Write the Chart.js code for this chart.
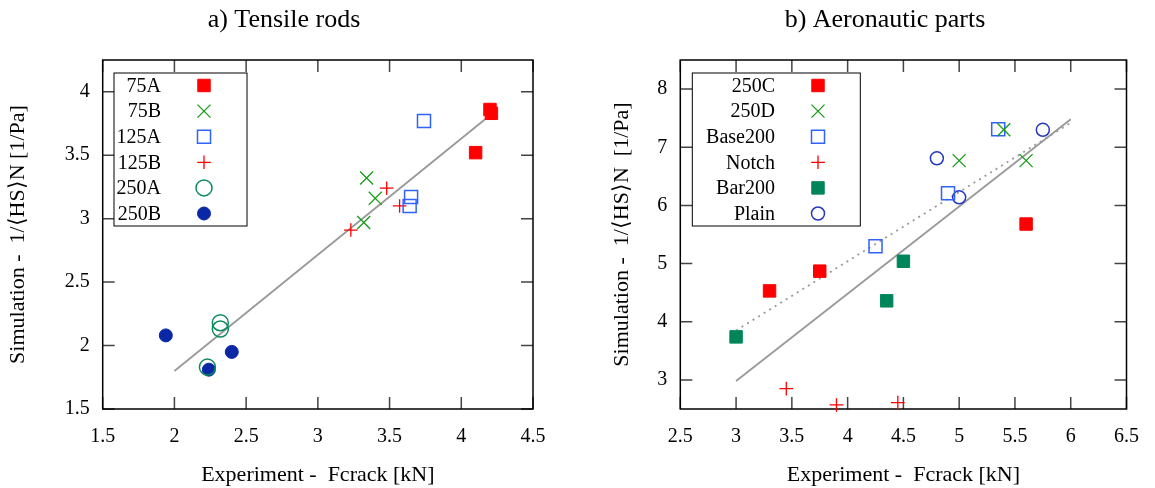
<!DOCTYPE html>
<html lang="en">
<head>
<meta charset="UTF-8">
<title>Tensile rods / Aeronautic parts</title>
<script src="https://cdn.jsdelivr.net/npm/chart.js@4.4.1/dist/chart.umd.min.js"></script>
<style>
    body { margin: 0; background: #fff; }
    #wrap { position: relative; width: 1155px; height: 488px; }
    canvas { position: absolute; top: 0; }
</style>
</head>
<body>
<div id="wrap">
    <canvas id="chartA" width="577" height="488" style="left:0"></canvas>
    <canvas id="chartB" width="578" height="488" style="left:577px"></canvas>
</div>
<script>
// ---- a) Tensile rods ----
const a_xTicks = [1.5, 2, 2.5, 3, 3.5, 4, 4.5];
const a_yTicks = [1.5, 2, 2.5, 3, 3.5, 4];
const a_x75A  = [4.20, 4.21, 4.10];  const a_y75A  = [3.86, 3.83, 3.52];
const a_x75B  = [3.34, 3.40, 3.32];  const a_y75B  = [3.32, 3.16, 2.97];
const a_x125A = [3.74, 3.65, 3.64];  const a_y125A = [3.77, 3.17, 3.10];
const a_x125B = [3.48, 3.57, 3.23];  const a_y125B = [3.24, 3.10, 2.91];
const a_x250A = [2.32, 2.32, 2.23];  const a_y250A = [2.18, 2.13, 1.83];
const a_x250B = [1.94, 2.40, 2.24];  const a_y250B = [2.08, 1.95, 1.81];
const a_xFit  = [2.00, 4.25];        const a_yFit  = [1.80, 3.86];

// ---- b) Aeronautic parts ----
const b_xTicks = [2.5, 3, 3.5, 4, 4.5, 5, 5.5, 6, 6.5];
const b_yTicks = [3, 4, 5, 6, 7, 8];
const b_x250C    = [5.60, 3.30, 3.75];  const b_y250C    = [5.68, 4.53, 4.87];
const b_x250D    = [5.40, 5.00, 5.60];  const b_y250D    = [7.30, 6.77, 6.77];
const b_xBase200 = [5.35, 4.90, 4.25];  const b_yBase200 = [7.31, 6.21, 5.30];
const b_xNotch   = [3.45, 3.90, 4.45];  const b_yNotch   = [2.85, 2.57, 2.61];
const b_xBar200  = [3.00, 4.35, 4.50];  const b_yBar200  = [3.74, 4.36, 5.04];
const b_xPlain   = [4.80, 5.00, 5.75];  const b_yPlain   = [6.81, 6.14, 7.30];
const b_xFit     = [3.00, 6.00];        const b_yFit     = [2.98, 7.48];
const b_xFitDot  = [3.00, 6.00];        const b_yFitDot  = [3.85, 7.42];

const FONT = 'Liberation Serif';
const NONE = 'rgba(0,0,0,0)';

function f_pts(p_x, p_y) {
    return p_x.map((v, i) => ({ x: v, y: p_y[i] }));
}

// marker styles (gnuplot look)
function f_mark(p_label, p_x, p_y, p_style, p_color, p_fill, p_r, p_w) {
    return {
        type: 'scatter', label: p_label, data: f_pts(p_x, p_y),
        pointStyle: p_style, pointRadius: p_r, pointHoverRadius: p_r,
        backgroundColor: p_fill ? p_color : NONE, borderColor: p_color,
        borderWidth: p_w, clip: false
    };
}
function f_fit(p_x, p_y, p_dash) {
    return {
        type: 'line', label: 'fit', data: f_pts(p_x, p_y),
        borderColor: '#999999', borderWidth: 1.8, borderDash: p_dash || [],
        pointRadius: 0, fill: false, tension: 0, clip: false
    };
}

// frame + inward ticks on all four sides
function f_frame(chart) {
    const ctx = chart.ctx, a = chart.chartArea;
    const xs = chart.scales.x, ys = chart.scales.y;
    ctx.save();
    ctx.strokeStyle = '#444';
    ctx.lineWidth = 1.5;
    ctx.beginPath();
    xs.ticks.forEach(t => {
        const px = xs.getPixelForValue(t.value);
        ctx.moveTo(px, a.bottom); ctx.lineTo(px, a.bottom - 12);
        ctx.moveTo(px, a.top);    ctx.lineTo(px, a.top + 12);
    });
    ys.ticks.forEach(t => {
        const py = ys.getPixelForValue(t.value);
        ctx.moveTo(a.left, py);  ctx.lineTo(a.left + 12, py);
        ctx.moveTo(a.right, py); ctx.lineTo(a.right - 12, py);
    });
    ctx.stroke();
    ctx.strokeStyle = '#000';
    ctx.lineWidth = 1.5;
    ctx.strokeRect(a.left, a.top, a.right - a.left, a.bottom - a.top);
    ctx.restore();
}

// legend: label right-aligned, marker on the right (like gnuplot)
function f_legend(chart, p) {
    const ctx = chart.ctx;
    ctx.save();
    ctx.fillStyle = '#fff';
    ctx.fillRect(p.left, p.top, p.width, p.height);
    ctx.strokeStyle = '#000';
    ctx.lineWidth = 1;
    ctx.strokeRect(p.left, p.top, p.width, p.height);
    ctx.font = '20px "' + FONT + '"';
    ctx.textAlign = 'right';
    ctx.textBaseline = 'middle';
    let l_y = p.firstY;
    chart.data.datasets.forEach(ds => {
        if (ds.type === 'line') return;
        ctx.fillStyle = '#000';
        ctx.fillText(ds.label, p.textRight, l_y + 1);
        ctx.fillStyle = ds.backgroundColor;
        ctx.strokeStyle = ds.borderColor;
        ctx.lineWidth = ds.borderWidth;
        Chart.helpers.drawPoint(ctx, {
            pointStyle: ds.pointStyle, radius: ds.pointRadius,
            rotation: 0, borderWidth: ds.borderWidth
        }, p.markX, l_y);
        l_y += p.step;
    });
    ctx.restore();
}

const decoPlugin = {
    id: 'deco',
    beforeDatasetsDraw(chart, args, opts) { f_frame(chart); },
    afterDraw(chart, args, opts) {
        f_legend(chart, opts.legend);
        const ctx = chart.ctx;
        ctx.save();
        ctx.fillStyle = '#000';
        ctx.font = '26px "' + FONT + '"';
        ctx.textAlign = 'center';
        ctx.textBaseline = 'alphabetic';
        ctx.fillText(opts.title, opts.titleX, 27);
        ctx.restore();
    }
};

function f_options(p) {
    const l_tickFont = { family: FONT, size: 20 };
    const l_titleFont = { family: FONT, size: 22 };
    return {
        responsive: false,
        animation: false,
        layout: { padding: { left: 0, right: p.padRight, top: 60, bottom: 0 } },
        plugins: {
            legend: { display: false },
            tooltip: { enabled: false },
            deco: { title: p.title, titleX: p.titleX, legend: p.legend }
        },
        scales: {
            x: {
                type: 'linear', min: p.xTicks[0], max: p.xTicks[p.xTicks.length - 1],
                afterBuildTicks: s => { s.ticks = p.xTicks.map(v => ({ value: v })); },
                afterFit: s => { s.height = 79; },
                grid: { display: false, drawTicks: false },
                border: { display: false },
                ticks: { padding: 16, color: '#000', font: l_tickFont, maxRotation: 0,
                         autoSkip: false, callback: v => String(v) },
                title: { display: true, text: 'Experiment -  Fcrack [kN]', color: '#000',
                         font: l_titleFont, padding: { top: 0, bottom: 0 } }
            },
            y: {
                type: 'linear', min: p.yMin, max: p.yMax,
                afterBuildTicks: s => { s.ticks = p.yTicks.map(v => ({ value: v })); },
                afterFit: s => { s.width = p.yWidth; },
                grid: { display: false, drawTicks: false },
                border: { display: false },
                ticks: { padding: 13, color: '#000', font: l_tickFont,
                         autoSkip: false, callback: v => String(v) },
                title: { display: true, text: p.yTitle, color: '#000',
                         font: l_titleFont, padding: { top: p.yTitlePad, bottom: 0 } }
            }
        }
    };
}

const RED = '#ff0000', GREENX = '#149c14', BLUE = '#3062ff',
      TEAL = '#0c8c5c', NAVY = '#0a27a5', BARG = '#00855a', PLAIN = '#2538c0';

new Chart(document.getElementById('chartA'), {
    data: {
        datasets: [
            f_mark('75A',  a_x75A,  a_y75A,  'rect',     RED,    true,  8.8, 1),
            f_mark('75B',  a_x75B,  a_y75B,  'crossRot', GREENX, false, 9.2, 1.3),
            f_mark('125A', a_x125A, a_y125A, 'rect',     BLUE,   false, 9.2, 1.5),
            f_mark('125B', a_x125B, a_y125B, 'cross',    RED,    false, 6.8, 1.3),
            f_mark('250A', a_x250A, a_y250A, 'circle',   TEAL,   false, 8,   1.5),
            f_mark('250B', a_x250B, a_y250B, 'circle',   NAVY,   true,  6.5, 1),
            f_fit(a_xFit, a_yFit)
        ]
    },
    options: f_options({
        xTicks: a_xTicks, yTicks: a_yTicks, yMin: 1.5, yMax: 4.25,
        padRight: 44, yWidth: 102.7, yTitlePad: 5,
        yTitle: 'Simulation -  1/\u27E8HS\u27E9N [1/Pa]',
        title: 'a) Tensile rods', titleX: 284,
        legend: { left: 114, top: 73, width: 133, height: 153,
                  textRight: 161, markX: 204, firstY: 85.5, step: 25.6 }
    }),
    plugins: [decoPlugin]
});

new Chart(document.getElementById('chartB'), {
    data: {
        datasets: [
            f_mark('250C',    b_x250C,    b_y250C,    'rect',     RED,    true,  8.8, 1),
            f_mark('250D',    b_x250D,    b_y250D,    'crossRot', GREENX, false, 9.2, 1.3),
            f_mark('Base200', b_xBase200, b_yBase200, 'rect',     BLUE,   false, 9.2, 1.5),
            f_mark('Notch',   b_xNotch,   b_yNotch,   'cross',    RED,    false, 6.8, 1.3),
            f_mark('Bar200',  b_xBar200,  b_yBar200,  'rect',     BARG,   true,  8.8, 1),
            f_mark('Plain',   b_xPlain,   b_yPlain,   'circle',   PLAIN,  false, 6.5, 1.5),
            f_fit(b_xFit, b_yFit),
            f_fit(b_xFitDot, b_yFitDot, [2, 4.5])
        ]
    },
    options: f_options({
        xTicks: b_xTicks, yTicks: b_yTicks, yMin: 2.5, yMax: 8.5,
        padRight: 21.3, yWidth: 103.3, yTitlePad: 32,
        yTitle: 'Simulation -  1/\u27E8HS\u27E9N  [1/Pa]',
        title: 'b) Aeronautic parts', titleX: 308,
        legend: { left: 115.3, top: 73, width: 168, height: 153,
                  textRight: 198, markX: 241, firstY: 85.5, step: 25.6 }
    }),
    plugins: [decoPlugin]
});
</script>
</body>
</html>
